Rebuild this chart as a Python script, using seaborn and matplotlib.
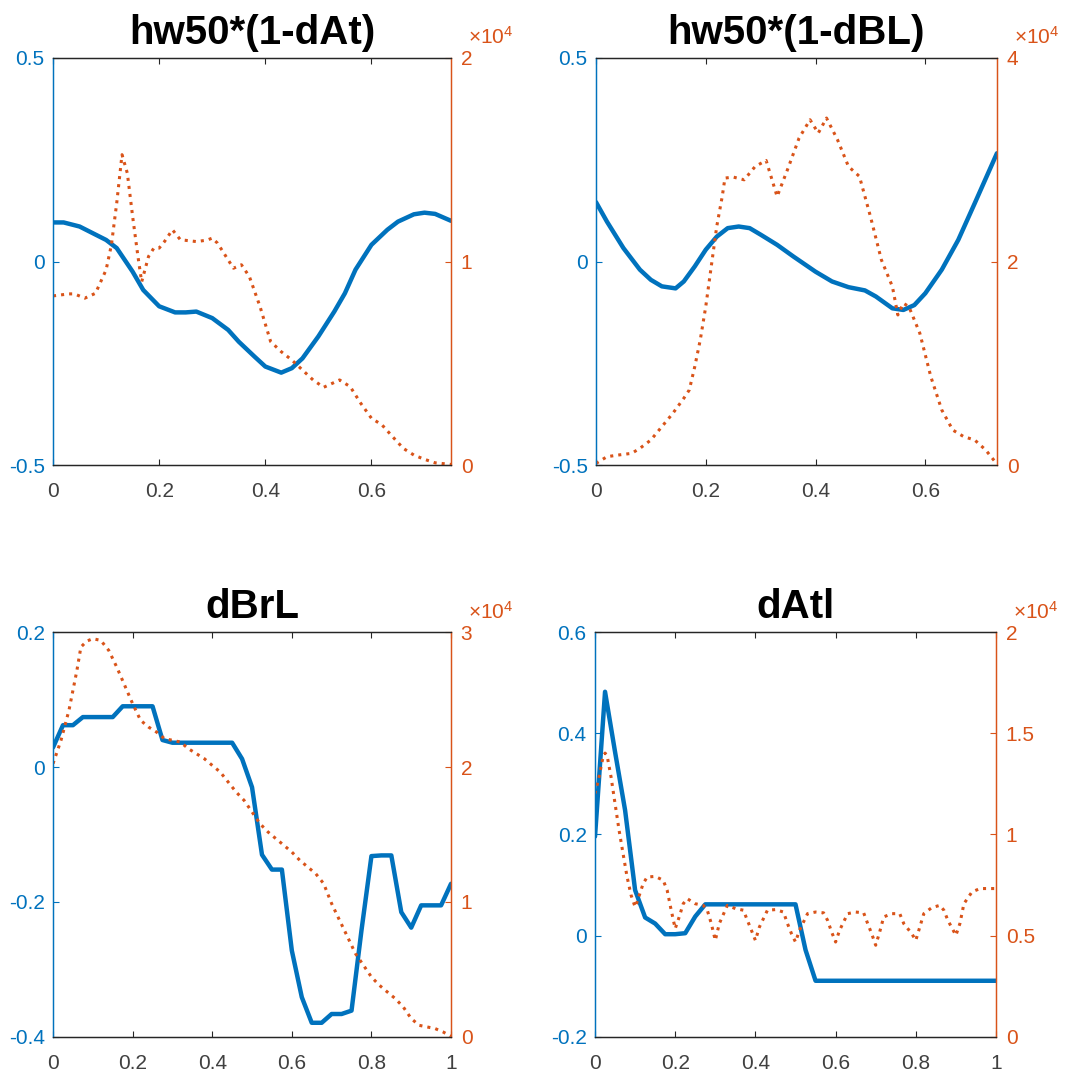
import numpy as np
import pandas as pd
import matplotlib
matplotlib.use("Agg")
import matplotlib.pyplot as plt
import seaborn as sns

sns.set_theme(style="white")
plt.rcParams['font.family'] = ['Liberation Sans', 'DejaVu Sans']
plt.rcParams['mathtext.fontset'] = 'custom'
plt.rcParams['mathtext.rm'] = 'Liberation Sans'
plt.rcParams['mathtext.it'] = 'Liberation Sans'

BLUE = "#0072BD"
ORANGE = "#D95319"
DARK = "#262626"

# ---------------- Panel 1: hw50*(1-dAt) ----------------
p1_title = "hw50*(1-dAt)"
p1_bx = [0, 0.02, 0.05, 0.1, 0.12, 0.15, 0.17, 0.2, 0.23, 0.25, 0.27, 0.3, 0.33, 0.35, 0.38,
         0.4, 0.43, 0.45, 0.47, 0.5, 0.53, 0.55, 0.57, 0.6, 0.63, 0.65, 0.68, 0.7, 0.72, 0.75]
p1_by = [0.096, 0.096, 0.086, 0.053, 0.033, -0.025, -0.07, -0.11, -0.125, -0.125, -0.123, -0.139,
         -0.168, -0.197, -0.234, -0.258, -0.273, -0.262, -0.238, -0.184, -0.123, -0.078, -0.02,
         0.041, 0.078, 0.098, 0.116, 0.12, 0.117, 0.1]
p1_ox = [0, 0.03, 0.04, 0.06, 0.08, 0.1, 0.11, 0.12, 0.13, 0.14, 0.15, 0.16, 0.167, 0.18, 0.19,
         0.2, 0.21, 0.225, 0.24, 0.27, 0.29, 0.3, 0.31, 0.33, 0.34, 0.355, 0.37, 0.39, 0.41, 0.43,
         0.45, 0.47, 0.49, 0.51, 0.54, 0.56, 0.58, 0.6, 0.62, 0.64, 0.66, 0.68, 0.7, 0.72, 0.75]
p1_oy = [0.831, 0.841, 0.841, 0.820, 0.844, 0.959, 1.082, 1.287, 1.525, 1.434, 1.221, 1.025, 0.90,
         1.025, 1.066, 1.066, 1.098, 1.156, 1.107, 1.098, 1.105, 1.115, 1.09, 1.008, 0.967, 0.984,
         0.926, 0.779, 0.607, 0.557, 0.516, 0.467, 0.418, 0.382, 0.418, 0.385, 0.303, 0.230,
         0.197, 0.139, 0.082, 0.049, 0.028, 0.011, 0.003]

# ---------------- Panel 2: hw50*(1-dBL) ----------------
p2_title = "hw50*(1-dBL)"
p2_bx = [0, 0.02, 0.05, 0.08, 0.1, 0.12, 0.145, 0.16, 0.18, 0.2, 0.22, 0.24, 0.26, 0.28, 0.3,
         0.33, 0.36, 0.4, 0.43, 0.46, 0.49, 0.51, 0.54, 0.56, 0.58, 0.6, 0.63, 0.66, 0.69, 0.7305]
p2_by = [0.146, 0.098, 0.033, -0.020, -0.045, -0.061, -0.066, -0.049, -0.012, 0.029, 0.061, 0.082,
         0.086, 0.082, 0.066, 0.041, 0.012, -0.025, -0.049, -0.063, -0.071, -0.086, -0.115, -0.119,
         -0.107, -0.078, -0.020, 0.053, 0.143, 0.266]
p2_ox = [0, 0.02, 0.04, 0.065, 0.08, 0.1, 0.12, 0.14, 0.16, 0.17, 0.18, 0.19, 0.2, 0.21, 0.22,
         0.23, 0.235, 0.25, 0.27, 0.29, 0.31, 0.33, 0.35, 0.37, 0.39, 0.405, 0.42, 0.44, 0.46, 0.48,
         0.5, 0.52, 0.54, 0.55, 0.56, 0.57, 0.59, 0.61, 0.63, 0.65, 0.67, 0.69, 0.71, 0.7305]
p2_oy = [0.016, 0.082, 0.098, 0.115, 0.164, 0.246, 0.377, 0.508, 0.656, 0.738, 0.967, 1.230, 1.557,
         1.951, 2.344, 2.639, 2.820, 2.830, 2.803, 2.934, 2.993, 2.639, 2.918, 3.213, 3.393, 3.262,
         3.410, 3.197, 2.934, 2.836, 2.443, 2.016, 1.754, 1.475, 1.590, 1.557, 1.295, 0.869, 0.541,
         0.344, 0.279, 0.246, 0.148, 0.010]

# ---------------- Panel 3: dBrL ----------------
p3_title = "dBrL"
p3_bx = [i / 40 for i in range(41)]
p3_by = [0.029, 0.062, 0.062, 0.074, 0.074, 0.074, 0.074, 0.090, 0.090, 0.090, 0.090, 0.040,
         0.036, 0.036, 0.036, 0.036, 0.036, 0.036, 0.036, 0.012, -0.030, -0.130, -0.152, -0.152,
         -0.272, -0.341, -0.379, -0.379, -0.366, -0.366, -0.361, -0.242, -0.132, -0.131, -0.131,
         -0.215, -0.238, -0.205, -0.205, -0.205, -0.173]
p3_ox = [0, 0.02, 0.04, 0.06, 0.07, 0.085, 0.1, 0.12, 0.14, 0.16, 0.18, 0.2, 0.22, 0.24, 0.26,
         0.28, 0.3, 0.32, 0.34, 0.36, 0.38, 0.4, 0.42, 0.44, 0.46, 0.48, 0.5, 0.52, 0.54, 0.56,
         0.58, 0.6, 0.62, 0.64, 0.66, 0.68, 0.7, 0.72, 0.74, 0.76, 0.78, 0.8, 0.82, 0.84, 0.86,
         0.88, 0.9, 0.92, 0.94, 0.96, 0.98, 1.0]
p3_oy = [2.025, 2.198, 2.420, 2.716, 2.889, 2.933, 2.951, 2.938, 2.864, 2.741, 2.605, 2.469,
         2.346, 2.296, 2.259, 2.210, 2.198, 2.185, 2.136, 2.099, 2.062, 2.012, 1.963, 1.889, 1.815,
         1.753, 1.667, 1.580, 1.519, 1.469, 1.420, 1.370, 1.309, 1.259, 1.210, 1.136, 0.988, 0.864,
         0.741, 0.617, 0.531, 0.444, 0.383, 0.333, 0.284, 0.222, 0.136, 0.086, 0.074, 0.062,
         0.037, 0.005]

# ---------------- Panel 4: dAtl ----------------
p4_title = "dAtl"
p4_bx = [i / 40 for i in range(41)]
p4_by = [0.196, 0.482, 0.363, 0.248, 0.090, 0.036, 0.024, 0.003, 0.003, 0.005, 0.038, 0.062,
         0.062, 0.062, 0.062, 0.062, 0.062, 0.062, 0.062, 0.062, 0.062, -0.028, -0.089, -0.089,
         -0.089, -0.089, -0.089, -0.089, -0.089, -0.089, -0.089, -0.089, -0.089, -0.089, -0.089,
         -0.089, -0.089, -0.089, -0.089, -0.089, -0.089]
p4_ox = [0, 0.01, 0.02, 0.025, 0.03, 0.04, 0.05, 0.06, 0.07, 0.08, 0.09, 0.1, 0.105, 0.12, 0.13,
         0.15, 0.17, 0.18, 0.19, 0.2, 0.21, 0.22, 0.23, 0.25, 0.27, 0.28, 0.29, 0.3, 0.31, 0.33,
         0.35, 0.37, 0.38, 0.39, 0.4, 0.41, 0.43, 0.45, 0.47, 0.48, 0.49, 0.5, 0.51, 0.53, 0.55,
         0.57, 0.58, 0.59, 0.6, 0.61, 0.63, 0.65, 0.67, 0.68, 0.69, 0.7, 0.71, 0.72, 0.74, 0.76,
         0.77, 0.79, 0.8, 0.81, 0.82, 0.84, 0.86, 0.87, 0.88, 0.9, 0.91, 0.92, 0.94, 0.96, 0.98, 1.0]
p4_oy = [1.202, 1.284, 1.383, 1.402, 1.391, 1.284, 1.152, 1.021, 0.905, 0.790, 0.700, 0.642,
         0.667, 0.757, 0.790, 0.793, 0.774, 0.724, 0.626, 0.535, 0.593, 0.658, 0.683, 0.658, 0.650,
         0.626, 0.560, 0.477, 0.560, 0.650, 0.634, 0.626, 0.576, 0.527, 0.477, 0.543, 0.626, 0.629,
         0.617, 0.560, 0.510, 0.469, 0.527, 0.609, 0.617, 0.613, 0.576, 0.519, 0.469, 0.527, 0.609,
         0.617, 0.613, 0.560, 0.510, 0.453, 0.519, 0.593, 0.609, 0.609, 0.560, 0.510, 0.477, 0.543,
         0.609, 0.639, 0.650, 0.626, 0.576, 0.502, 0.560, 0.658, 0.716, 0.733, 0.733, 0.733]

# axis settings per panel
panels = [
    dict(title=p1_title, bx=p1_bx, by=p1_by, ox=p1_ox, oy=p1_oy, xlim=(0, 0.75),
         xticks=[0, 0.2, 0.4, 0.6], ylim=(-0.5, 0.5), yticks=[-0.5, 0, 0.5],
         y2lim=(0, 2), y2ticks=[0, 1, 2], rect=[0.0498, 0.567, 0.3737, 0.379]),
    dict(title=p2_title, bx=p2_bx, by=p2_by, ox=p2_ox, oy=p2_oy, xlim=(0, 0.7305),
         xticks=[0, 0.2, 0.4, 0.6], ylim=(-0.5, 0.5), yticks=[-0.5, 0, 0.5],
         y2lim=(0, 4), y2ticks=[0, 2, 4], rect=[0.5596, 0.567, 0.3765, 0.379]),
    dict(title=p3_title, bx=p3_bx, by=p3_by, ox=p3_ox, oy=p3_oy, xlim=(0, 1),
         xticks=[0, 0.2, 0.4, 0.6, 0.8, 1], ylim=(-0.4, 0.2), yticks=[-0.4, -0.2, 0, 0.2],
         y2lim=(0, 3), y2ticks=[0, 1, 2, 3], rect=[0.0498, 0.0345, 0.3737, 0.377]),
    dict(title=p4_title, bx=p4_bx, by=p4_by, ox=p4_ox, oy=p4_oy, xlim=(0, 1),
         xticks=[0, 0.2, 0.4, 0.6, 0.8, 1], ylim=(-0.2, 0.6), yticks=[-0.2, 0, 0.2, 0.4, 0.6],
         y2lim=(0, 2), y2ticks=[0, 0.5, 1, 1.5, 2], rect=[0.5587, 0.0345, 0.3765, 0.377]),
]


def fmt(v):
    return f"{v:g}"


fig = plt.figure(figsize=(10.65, 10.74), dpi=100)
fig.patch.set_facecolor("white")

for p in panels:
    ax = fig.add_axes(p["rect"])
    ax2 = ax.twinx()
    dfb = pd.DataFrame({"x": p["bx"], "y": p["by"]})
    dfo = pd.DataFrame({"x": p["ox"], "y": p["oy"]})
    sns.lineplot(data=dfb, x="x", y="y", ax=ax, color=BLUE, linewidth=3.2, sort=False)
    sns.lineplot(data=dfo, x="x", y="y", ax=ax2, color=ORANGE, linestyle=":", linewidth=2.2,
                 sort=False)

    ax.set_xlim(*p["xlim"])
    ax.set_ylim(*p["ylim"])
    ax2.set_ylim(*p["y2lim"])
    ax.set_xticks(p["xticks"])
    ax.set_xticklabels([fmt(v) for v in p["xticks"]])
    ax.set_yticks(p["yticks"])
    ax.set_yticklabels([fmt(v) for v in p["yticks"]])
    ax2.set_yticks(p["y2ticks"])
    ax2.set_yticklabels([fmt(v) for v in p["y2ticks"]])
    ax.set_xlabel("")
    ax.set_ylabel("")
    ax2.set_ylabel("")
    ax2.set_xlabel("")

    ax.tick_params(axis="x", direction="in", length=4, width=0.8, colors=DARK,
                   labelsize=15, top=True, bottom=True, pad=12, labelcolor="#404040")
    ax.tick_params(axis="y", direction="in", length=4, width=0.8, colors=BLUE,
                   labelsize=15, left=True, right=False, pad=6)
    ax2.tick_params(axis="y", direction="in", length=4, width=0.8, colors=ORANGE,
                    labelsize=15, right=True, left=False, pad=7)

    for a in (ax, ax2):
        for s in a.spines.values():
            s.set_linewidth(0.9)
        a.spines["top"].set_color(DARK)
        a.spines["bottom"].set_color(DARK)
        a.spines["left"].set_color(BLUE)
        a.spines["right"].set_color(ORANGE)
        a.grid(False)

    ax.set_title(p["title"], fontsize=29, fontweight="bold", pad=10, color="black")
    ax2.annotate(r"$\times\mathregular{10^{4}}$", xy=(1.0, 1.0), xycoords="axes fraction",
                 xytext=(12, 7), textcoords="offset points", ha="left", va="bottom",
                 fontsize=15, color=ORANGE)

fig.savefig("out.png", dpi=100, facecolor="white")
